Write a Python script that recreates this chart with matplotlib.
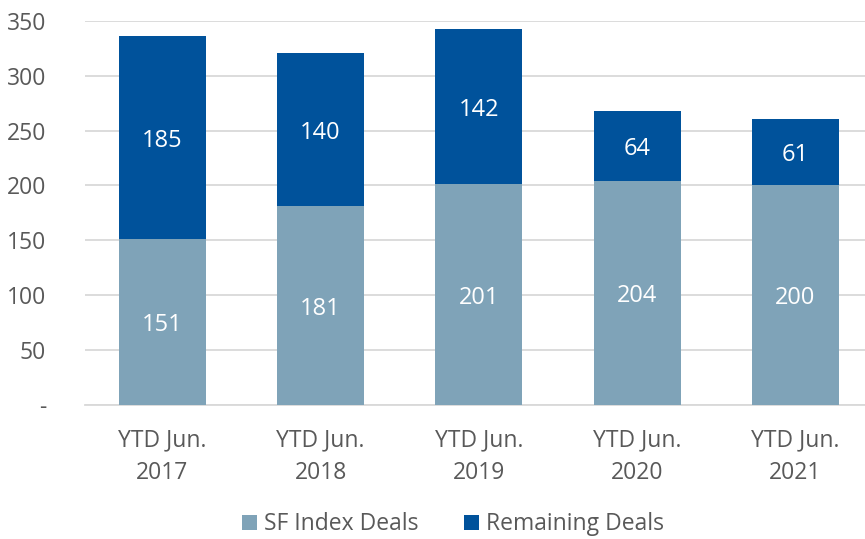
import matplotlib
matplotlib.use("Agg")
import matplotlib.pyplot as plt
import numpy as np

# data
categories = ["YTD Jun.\n2017", "YTD Jun.\n2018", "YTD Jun.\n2019", "YTD Jun.\n2020", "YTD Jun.\n2021"]
sf_index = [151, 181, 201, 204, 200]
remaining = [185, 140, 142, 64, 61]
yticks = [0, 50, 100, 150, 200, 250, 300, 350]
ytick_labels = ["-", "50", "100", "150", "200", "250", "300", "350"]

light = "#7fa3b8"
dark = "#00529b"
grey = "#595959"

plt.rcParams['font.family'] = ['Open Sans', 'DejaVu Sans']

fig = plt.figure(figsize=(8.65, 5.39), dpi=100)
ax = fig.add_axes([0.098, 0.249, 0.902, 0.712])

x = np.arange(len(categories))
width = 0.55
b1 = ax.bar(x, sf_index, width, color=light, label="SF Index Deals", zorder=3)
b2 = ax.bar(x, remaining, width, bottom=sf_index, color=dark, label="Remaining Deals", zorder=3)

for i in range(len(x)):
    ax.text(x[i], sf_index[i] / 2, str(sf_index[i]), ha="center", va="center_baseline",
            color="white", fontsize=17, zorder=4)
    ax.text(x[i], sf_index[i] + remaining[i] / 2, str(remaining[i]), ha="center",
            va="center_baseline", color="white", fontsize=17, zorder=4)

ax.set_ylim(0, 350)
ax.set_xlim(-0.49, 4.44)
ax.set_yticks(yticks)
ax.set_yticklabels(ytick_labels)
ax.set_xticks(x)
ax.set_xticklabels(categories, linespacing=1.5)
ax.tick_params(axis="both", length=0, labelsize=16.5, colors=grey)
ax.tick_params(axis="x", pad=17)
ax.tick_params(axis="y", pad=28)
ax.grid(axis="y", color="#d9d9d9", linewidth=1.3, zorder=0)
for s in ["top", "right", "left"]:
    ax.spines[s].set_visible(False)
ax.spines["bottom"].set_color("#d9d9d9")
ax.spines["bottom"].set_linewidth(1.3)

# legend sits at the very bottom edge, as in the source
leg = fig.legend(handles=[b1, b2], loc="center", bbox_to_anchor=(0.524, 0.027), ncol=2,
                 frameon=False, fontsize=16.5, handlelength=0.65, handleheight=0.65,
                 handletextpad=0.3, columnspacing=2.0)
for t in leg.get_texts():
    t.set_color(grey)

fig.savefig("out.png", dpi=100)
